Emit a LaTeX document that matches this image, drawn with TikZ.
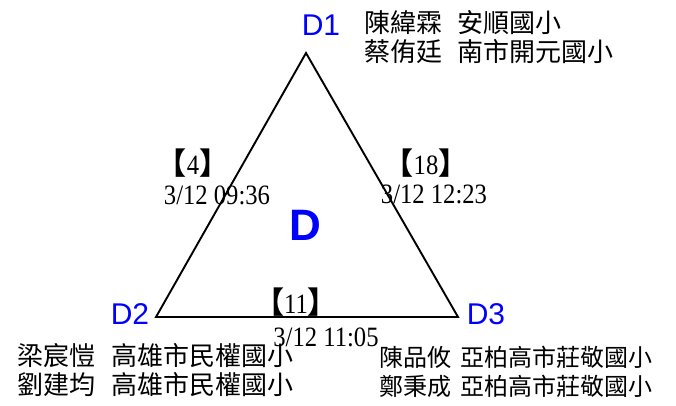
\documentclass[tikz,border=0pt]{standalone}
\usepackage{fontspec}
\setmainfont{Liberation Serif}
\newfontfamily\cjk{Noto Sans CJK TC}
\newfontfamily\cjkjp{Noto Sans CJK JP}
\newfontfamily\tnr[FakeStretch=0.88]{Liberation Serif}
\newfontfamily\arial{Liberation Sans}
\definecolor{vblue}{RGB}{0,0,255}
\tikzset{
  vlabel/.style={font=\arial\fontsize{30}{30}\selectfont, text=vblue, inner sep=0pt},
  biglabel/.style={font=\arial\bfseries\fontsize{44}{44}\selectfont, text=vblue, inner sep=0pt},
  names/.style={font=\cjk\fontsize{26}{29}\selectfont, align=left, inner sep=0pt, anchor=west},
  smallnames/.style={names, font=\cjk\fontsize{24}{29}\selectfont},
  count/.style={font=\tnr\fontsize{28}{28}\selectfont, inner sep=0pt},
  stamp/.style={font=\tnr\fontsize{28}{28}\selectfont, inner sep=0pt},
  edge/.style={line width=1.9pt, line join=miter}
}
\newcommand{\brk}[1]{{\cjkjp\bfseries\fontsize{30}{30}\selectfont 【}#1{\cjkjp\bfseries\fontsize{30}{30}\selectfont 】}}
\begin{document}
\begin{tikzpicture}[x=1pt,y=-1pt]
\useasboundingbox (0,0) rectangle (676,406);
\coordinate (T) at (306,53);
\coordinate (L) at (156,317);
\coordinate (R) at (458,317);
\draw[edge] (T) -- (L) -- (R) -- cycle;

\node[vlabel] (D1) at (321,25) {D1};
\node[vlabel] (D2) at (130,314) {D2};
\node[vlabel] (D3) at (486,314) {D3};
\node[biglabel] (D) at (305,225) {D};

\node[names] (n1) at (364,37.5) {陳緯霖\hspace{0.6em}安順國小\\蔡侑廷\hspace{0.6em}南市開元國小};
\node[names] (n2) at (17,370.5) {梁宸愷\hspace{0.62em}高雄市民權國小\\劉建均\hspace{0.62em}高雄市民權國小};
\node[smallnames] (n3) at (379,371.5) {陳品攸\hspace{0.4em}亞柏高市莊敬國小\\鄭秉成\hspace{0.4em}亞柏高市莊敬國小};

\node[count] (c4) at (193,163) {\brk{4}};
\node[count] (c18) at (426,163) {\brk{18}};
\node[count] (c11) at (296,302) {\brk{11}};

\node[stamp] (s4) at (217,195) {3/12 09:36};
\node[stamp] (s18) at (434,194) {3/12 12:23};
\node[stamp] (s11) at (326,337) {3/12 11:05};
\end{tikzpicture}
\end{document}
